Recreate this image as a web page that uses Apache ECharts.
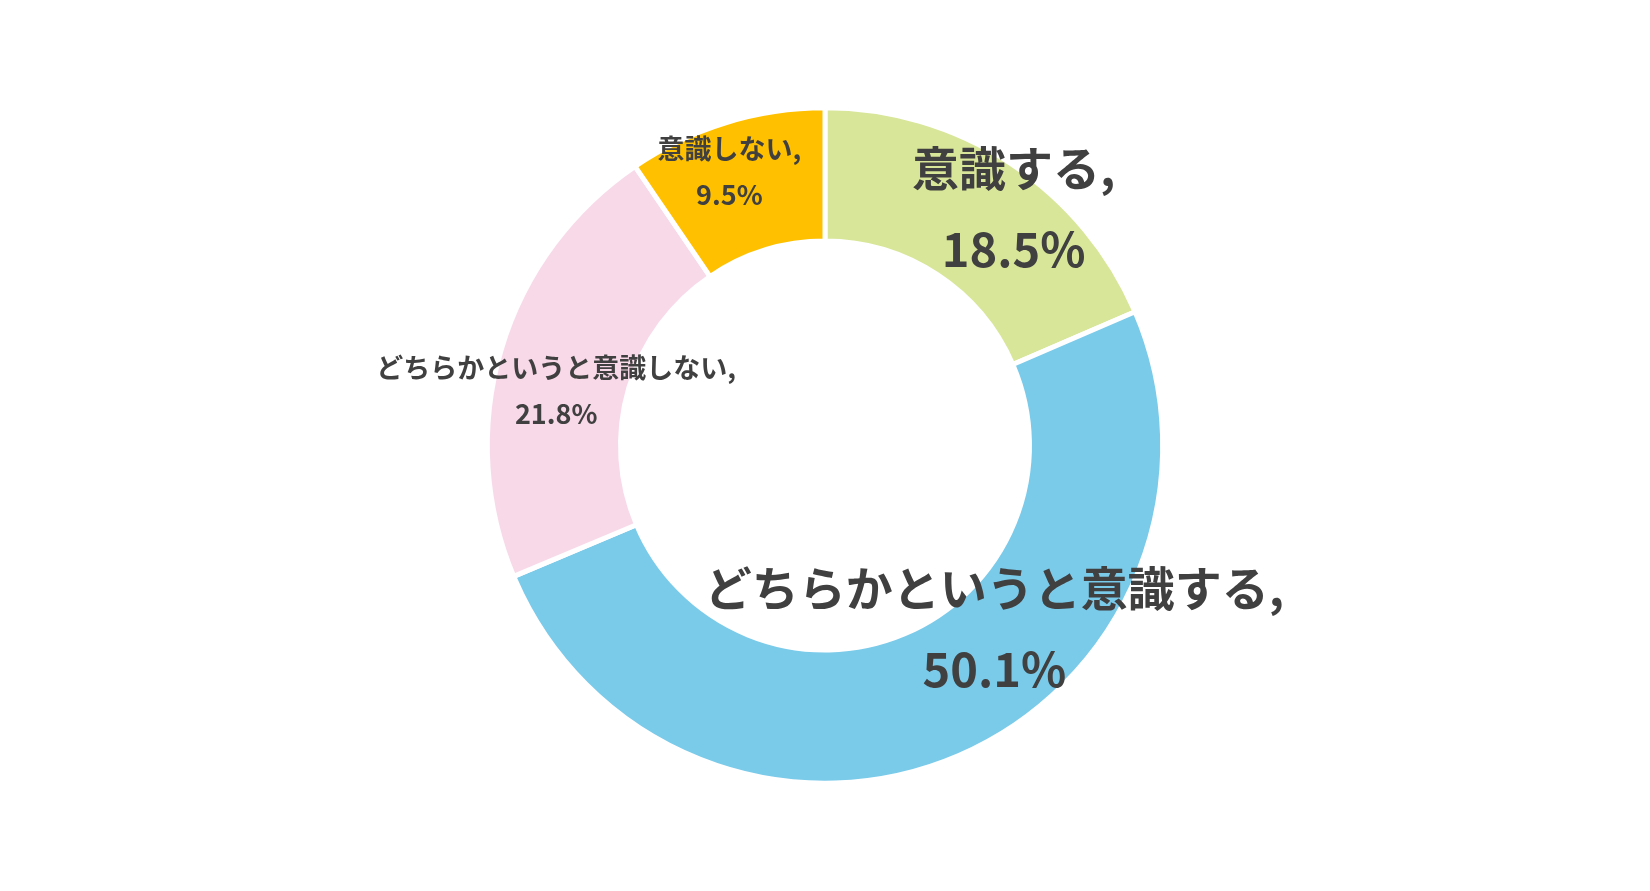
<!DOCTYPE html>
<html>
<head>
<meta charset="utf-8">
<script src="https://cdn.jsdelivr.net/npm/echarts@6/dist/echarts.min.js"></script>
<style>
  html, body { margin: 0; padding: 0; background: #fff; }
  #chart { width: 1650px; height: 891px; }
</style>
</head>
<body>
<div id="chart"></div>
<script>
// 回答区分と割合(%)
const categories = ["意識する", "どちらかというと意識する", "どちらかというと意識しない", "意識しない"];
const values = [18.5, 50.1, 21.8, 9.5];

const colors = ["#D8E699", "#7ACAEA", "#F8D9E8", "#FFC000"];
// ラベルの見た目（大きい2つ・小さい2つ）
const labelSize = [47, 47, 27, 27];
const labelLine = [81, 81, 46, 46];
const labelShift = [[38, -8], [62, -69], [-6, 23], [-15, -12]];

const myChart = echarts.init(document.getElementById("chart"));

const seriesData = categories.map((name, i) => ({
  name: name,
  value: values[i],
  itemStyle: { color: colors[i] },
  label: {
    fontSize: labelSize[i],
    lineHeight: labelLine[i],
    offset: labelShift[i],
  },
}));

const option = {
  animation: false,
  series: [
    {
      type: "pie",
      center: ["50%", "50%"],
      radius: ["45.9%", "75.8%"],
      startAngle: 90,
      clockwise: true,
      itemStyle: {
        borderColor: "#fff",
        borderWidth: 5,
      },
      label: {
        show: true,
        position: "inside",
        formatter: "{b},\n{c}%",
        color: "#404040",
        fontFamily: "Noto Sans CJK JP",
        fontWeight: "bold",
        align: "center",
      },
      labelLine: { show: false },
      emphasis: { disabled: true },
      data: seriesData,
    },
  ],
};
myChart.setOption(option, true);

window.addEventListener("resize", () => {
  myChart.resize();
});
</script>
</body>
</html>
